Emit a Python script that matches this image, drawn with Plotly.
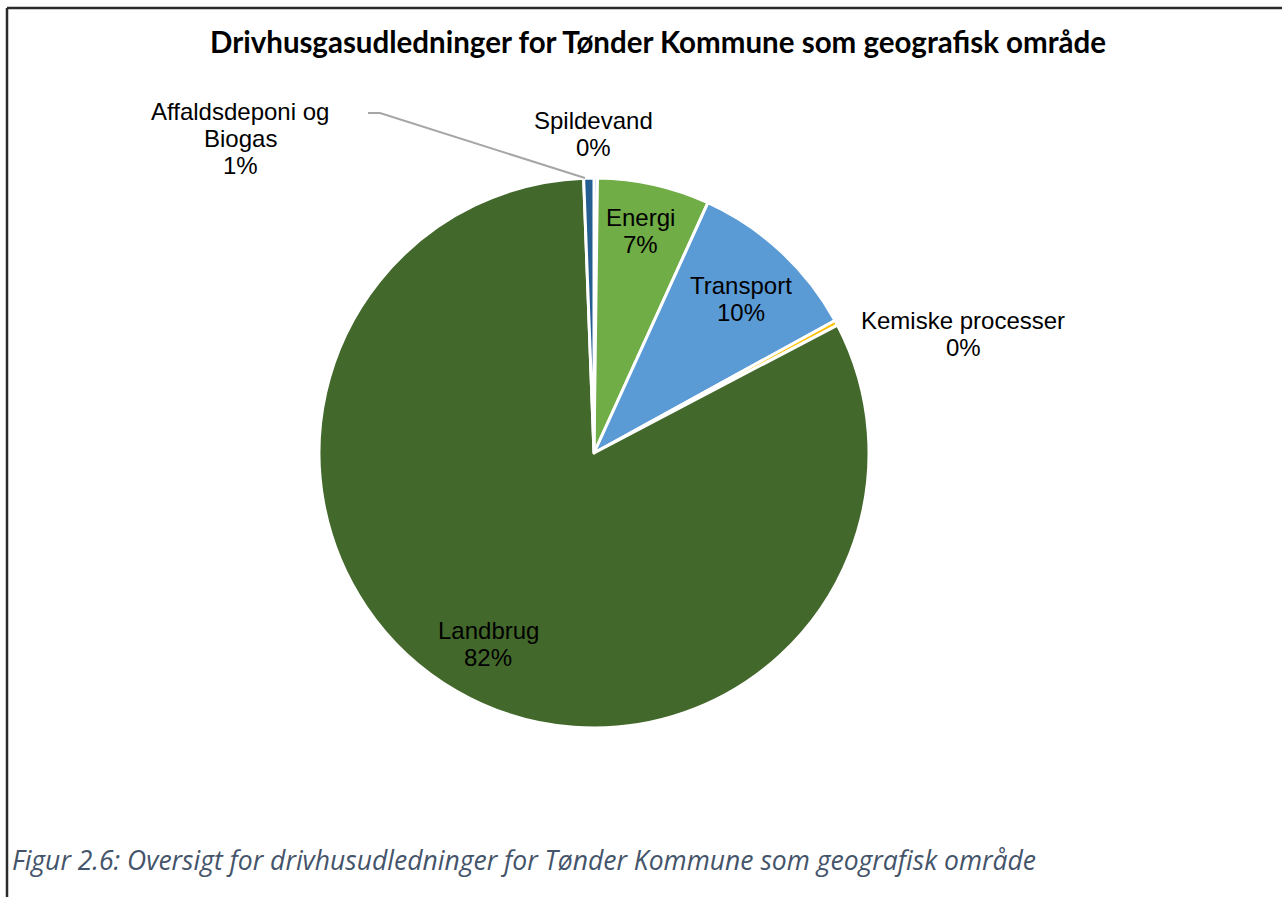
import plotly.graph_objects as go

# ---- data ----
categories = ["Spildevand", "Energi", "Transport", "Kemiske processer", "Landbrug", "Affaldsdeponi og Biogas"]
values = [0.2, 6.6, 10.2, 0.3, 82.1, 0.6]
colors = ["#4472C4", "#70AD47", "#5B9BD5", "#FFC000", "#43682B", "#255E91"]
label_lines = [["Spildevand"], ["Energi"], ["Transport"], ["Kemiske processer"], ["Landbrug"],
               ["Affaldsdeponi og", "Biogas"]]

title_text = "Drivhusgasudledninger for Tønder Kommune som geografisk område"
caption_text = "Figur 2.6: Oversigt for drivhusudledninger for Tønder Kommune som geografisk område"

W, H = 1282, 897
cx, cy, r = 594, 453, 275

fig = go.Figure(go.Pie(
    labels=categories, values=values, sort=False, direction="clockwise", rotation=0,
    marker=dict(colors=colors, line=dict(color="white", width=3)),
    textinfo="none", hoverinfo="label+percent", showlegend=False,
    domain=dict(x=[(cx - r) / W, (cx + r) / W], y=[1 - (cy + r) / H, 1 - (cy - r) / H]),
))

total = sum(values)
pct = [f"{round(v / total * 100):.0f}%" for v in values]

# label anchor (pixels): center x, first-line center y
label_pos = {
    "Spildevand": (593, 120),
    "Energi": (640, 216),
    "Transport": (741, 284),
    "Kemiske processer": (963, 319),
    "Landbrug": (488, 629),
    "Affaldsdeponi og Biogas": (240, 110),
}
LINE = 27

def px(x, y):
    return x / W, 1 - y / H

annotations = []
for cat, lines, p in zip(categories, label_lines, pct):
    x, y = label_pos[cat]
    for i, t in enumerate(lines + [p]):
        ax, ay = px(x, y + i * LINE + 1)
        annotations.append(dict(
            x=ax, y=ay, xref="paper", yref="paper", xanchor="center", yanchor="middle",
            text=t, showarrow=False,
            font=dict(family="Liberation Sans, Arial", size=24, color="#000000"),
        ))

tx, ty = px(658, 41)
annotations.append(dict(
    x=tx, y=ty, xref="paper", yref="paper", xanchor="center", yanchor="middle",
    text=f"<b>{title_text}</b>", showarrow=False,
    font=dict(family="Lato", size=29.5, color="#000000"),
))
fx, fy = px(10, 860)
annotations.append(dict(
    x=fx, y=fy, xref="paper", yref="paper", xanchor="left", yanchor="middle",
    text=f"<i>{caption_text}</i>", showarrow=False,
    font=dict(family="Open Sans", size=26.5, color="#44546A"),
))

shapes = []
# leader line for Affaldsdeponi og Biogas
x0, y0 = px(368, 113)
x1, y1 = px(380, 113)
x2, y2 = px(585, 178)
shapes.append(dict(type="path", xref="paper", yref="paper",
                   path=f"M {x0} {y0} L {x1} {y1} L {x2} {y2}",
                   line=dict(color="#A6A6A6", width=2)))
# frame lines (top and left)
a0, b0 = px(7, 8)
a1, b1 = px(W, 8)
shapes.append(dict(type="line", xref="paper", yref="paper", x0=a0, y0=b0, x1=a1, y1=b1,
                   line=dict(color="#2B2B2B", width=2.5)))
a2, b2 = px(7, H)
shapes.append(dict(type="line", xref="paper", yref="paper", x0=a0, y0=b0, x1=a2, y1=b2,
                   line=dict(color="#2B2B2B", width=2.5)))

fig.update_layout(
    width=W, height=H, margin=dict(l=0, r=0, t=0, b=0),
    paper_bgcolor="white", plot_bgcolor="white",
    annotations=annotations, shapes=shapes,
)

fig.write_html("out.html", config={"displayModeBar": False},
               post_script="document.body.style.margin='0';document.body.style.overflow='hidden';")
